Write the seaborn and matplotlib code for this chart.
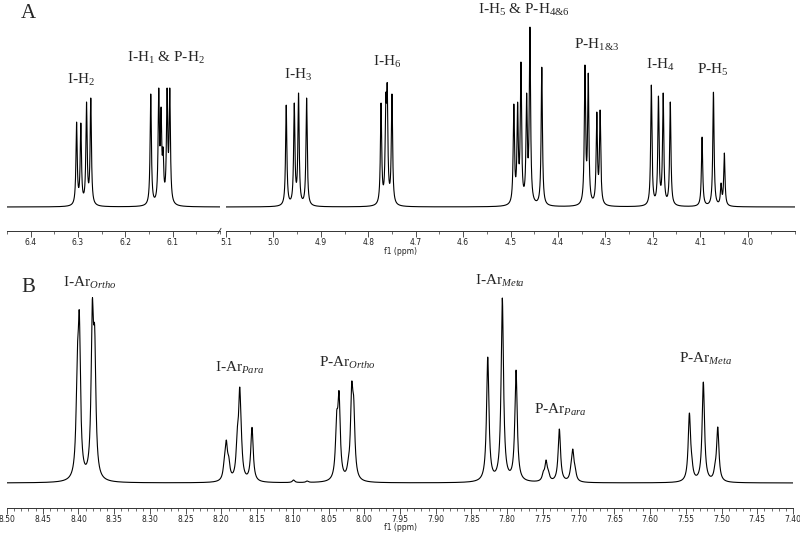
import numpy as np
import matplotlib
matplotlib.use("Agg")
import matplotlib.pyplot as plt
import seaborn as sns
from matplotlib.ticker import FixedLocator, MultipleLocator, FormatStrFormatter

# peak positions (ppm) and heights above baseline
a_left_ppm = [6.303, 6.294, 6.282, 6.273, 6.1463, 6.1294, 6.1245, 6.1203, 6.1118, 6.1061]
a_left_h = [85, 84, 105, 109, 113, 119, 100, 60, 119, 119]

a_right_ppm = [4.973, 4.956, 4.947, 4.930,
               4.773, 4.763, 4.760, 4.750,
               4.493, 4.485, 4.478, 4.466, 4.459, 4.434,
               4.343, 4.336, 4.318, 4.311,
               4.203, 4.188, 4.178, 4.163,
               4.096, 4.072, 4.056, 4.049]
a_right_h = [102, 104, 114, 109,
             104, 114, 124, 113,
             103, 105, 145, 114, 180, 140,
             142, 134, 95, 97,
             122, 111, 114, 105,
             70, 115, 24, 54]

b_ppm = [8.4016, 8.3988, 8.3806, 8.3773,
         8.1959, 8.1931, 8.1897, 8.1777, 8.1743, 8.1721, 8.1589, 8.1571, 8.1553,
         8.099, 8.080,
         8.0386, 8.0353, 8.0223, 8.0176, 8.0148,
         7.8272, 7.8068, 7.7876,
         7.7494, 7.7456, 7.7424, 7.7270, 7.7106, 7.7082, 7.7050,
         7.5450, 7.5417, 7.5255, 7.5091, 7.5053]
b_h = [134, 172, 184, 157,
       25, 43, 27, 55, 96, 55, 33, 55, 30,
       3, 2,
       72, 92, 25, 101, 86,
       126, 185, 113,
       12, 23, 13, 54, 20, 34, 17,
       70, 28, 101, 20, 56]

a_left_ticks = [6.4, 6.3, 6.2, 6.1]
a_right_ticks = [5.1, 5.0, 4.9, 4.8, 4.7, 4.6, 4.5, 4.4, 4.3, 4.2, 4.1, 4.0]
b_ticks = [8.50, 8.45, 8.40, 8.35, 8.30, 8.25, 8.20, 8.15, 8.10, 8.05, 8.00,
           7.95, 7.90, 7.85, 7.80, 7.75, 7.70, 7.65, 7.60, 7.55, 7.50, 7.45, 7.40]

a_labels = [r'I-H$_2$', r'I-H$_1$ & P-H$_2$', r'I-H$_3$', r'I-H$_6$',
            r'I-H$_5$ & P-H$_{4&6}$', r'P-H$_{1&3}$', r'I-H$_4$', r'P-H$_5$']
a_label_ppm = [6.294, 6.115, 4.948, 4.760, 4.471, 4.319, 4.184, 4.073]
a_label_h = [127, 149, 132, 145, 197, 162, 142, 137]

b_labels = [r'I-Ar$_{\mathit{Ortho}}$', r'I-Ar$_{\mathit{Para}}$', r'P-Ar$_{\mathit{Ortho}}$',
            r'I-Ar$_{\mathit{Meta}}$', r'P-Ar$_{\mathit{Para}}$', r'P-Ar$_{\mathit{Meta}}$']
b_label_ppm = [8.384, 8.174, 8.024, 7.810, 7.726, 7.522]
b_label_h = [200, 115, 120, 202, 73, 124]


def spectrum(grid, centres, heights, hwhm):
    # lorentzian lines, amplitudes chosen so the summed trace hits the read heights
    c = np.array(centres)
    h = np.array(heights, dtype=float)
    m = 1.0 / (1.0 + ((c[:, None] - c[None, :]) / hwhm) ** 2)
    amp = np.clip(np.linalg.solve(m, h), 0, None)
    shape = 1.0 / (1.0 + ((grid[:, None] - c[None, :]) / hwhm) ** 2)
    return shape @ amp


sns.set_style("white")
plt.rcParams['font.family'] = ['Liberation Serif', 'DejaVu Sans']
plt.rcParams['mathtext.fontset'] = 'custom'
plt.rcParams['mathtext.rm'] = 'Liberation Serif'
plt.rcParams['mathtext.it'] = 'Liberation Serif:italic'

fig = plt.figure(figsize=(8, 5.33), dpi=100)
ax_l = fig.add_axes([7 / 800, 302 / 533, 213 / 800, 231 / 533])
ax_r = fig.add_axes([226 / 800, 302 / 533, 569 / 800, 231 / 533])
ax_b = fig.add_axes([7 / 800, 25 / 533, 786 / 800, 245 / 533])

x_l = np.linspace(6.45, 6.0, 4000)
x_r = np.linspace(5.1, 3.9, 8000)
x_b = np.linspace(8.50, 7.40, 8000)

sns.lineplot(x=x_l, y=spectrum(x_l, a_left_ppm, a_left_h, 0.0016), ax=ax_l,
             color='black', linewidth=0.8, sort=False, estimator=None)
sns.lineplot(x=x_r, y=spectrum(x_r, a_right_ppm, a_right_h, 0.0016), ax=ax_r,
             color='black', linewidth=0.8, sort=False, estimator=None)
sns.lineplot(x=x_b, y=spectrum(x_b, b_ppm, b_h, 0.002), ax=ax_b,
             color='black', linewidth=0.8, sort=False, estimator=None)

ax_l.set_xlim(6.45, 6.0)
ax_r.set_xlim(5.1, 3.9)
ax_b.set_xlim(8.50, 7.40)
ax_l.set_ylim(-24, 207)
ax_r.set_ylim(-24, 207)
ax_b.set_ylim(-25, 220)

for ax, ticks, minor, fmt in [(ax_l, a_left_ticks, 0.05, '%.1f'),
                              (ax_r, a_right_ticks, 0.05, '%.1f'),
                              (ax_b, b_ticks, 0.01, '%.2f')]:
    for side in ['left', 'right', 'top']:
        ax.spines[side].set_visible(False)
    ax.spines['bottom'].set_color('#333333')
    ax.spines['bottom'].set_linewidth(0.7)
    ax.set_yticks([])
    ax.xaxis.set_major_locator(FixedLocator(ticks))
    ax.xaxis.set_major_formatter(FormatStrFormatter(fmt))
    ax.xaxis.set_minor_locator(MultipleLocator(minor))
    ax.tick_params(axis='x', which='major', direction='out', length=4, width=0.6,
                   color='#333333', labelsize=5.5, pad=1, bottom=True)
    ax.tick_params(axis='x', which='minor', direction='out', length=2, width=0.5,
                   color='#333333', bottom=True)
    for t in ax.get_xticklabels():
        t.set_family('DejaVu Sans')
        t.set_color('#222222')
    ax.set_xlabel('')
    ax.set_ylabel('')
    ax.patch.set_alpha(0)

# axis break mark
ax_l.plot([0.99, 1.005], [-0.012, 0.012], transform=ax_l.transAxes, color='#333333',
          linewidth=0.6, clip_on=False)

for lab, p, h in zip(a_labels, a_label_ppm, a_label_h):
    ax = ax_l if p > 5.5 else ax_r
    ax.text(p, h, lab, ha='center', va='center', fontsize=11)
for lab, p, h in zip(b_labels, b_label_ppm, b_label_h):
    ax_b.text(p, h, lab, ha='center', va='center', fontsize=11)

fig.text(28 / 800, 1 - 14 / 533, 'A', fontsize=15, ha='center', va='center')
fig.text(28 / 800, 1 - 288 / 533, 'B', fontsize=15, ha='center', va='center')
fig.text(0.5, 1 - 252 / 533, 'f1 (ppm)', fontsize=5.5, family='DejaVu Sans',
         color='#222222', ha='center', va='center')
fig.text(0.5, 1 - 528 / 533, 'f1 (ppm)', fontsize=5.5, family='DejaVu Sans',
         color='#222222', ha='center', va='center')

fig.savefig('out.png', dpi=100)
